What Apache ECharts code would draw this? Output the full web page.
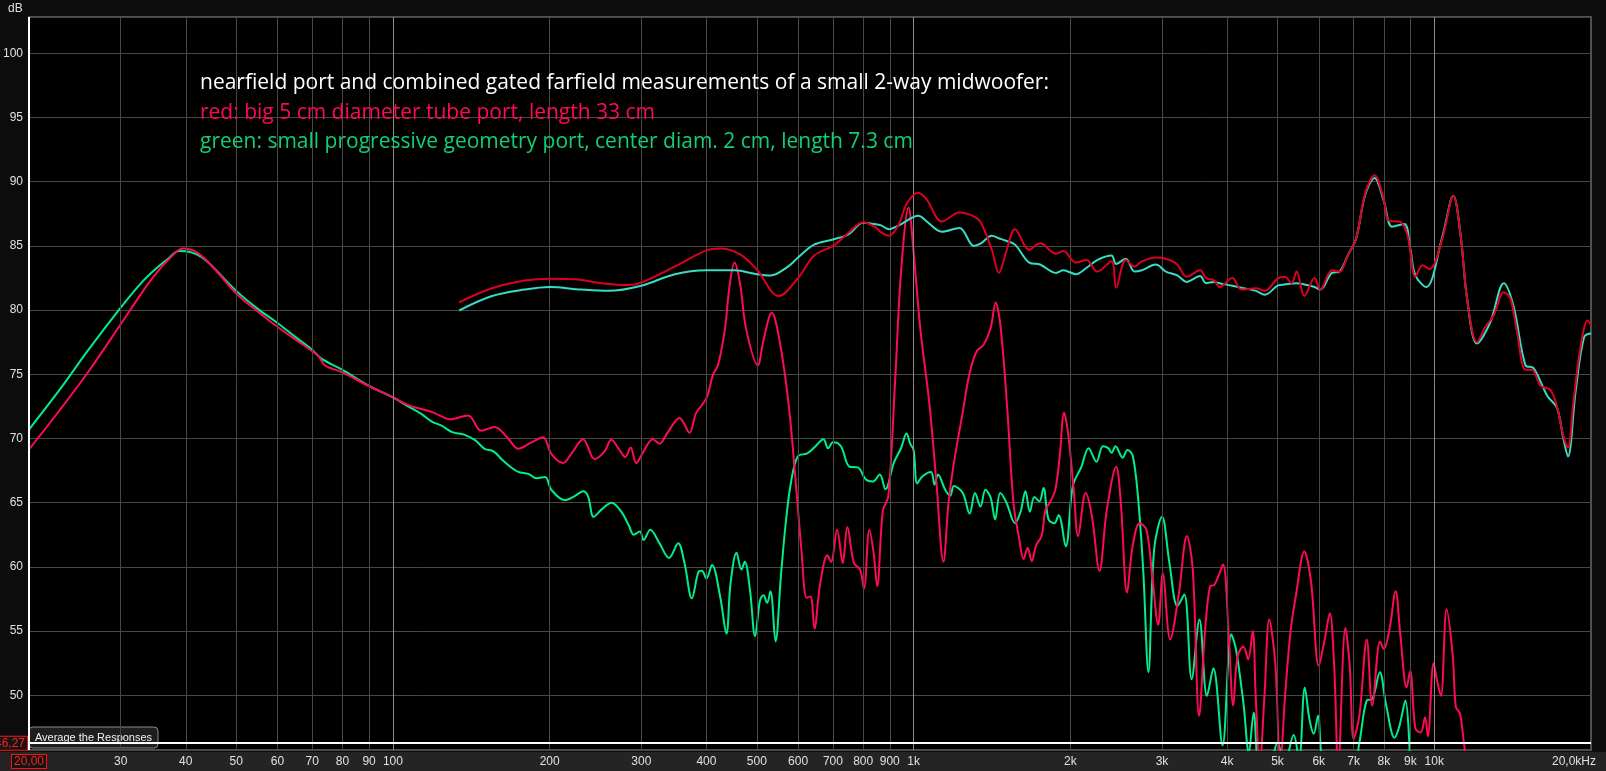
<!DOCTYPE html>
<html><head><meta charset="utf-8">
<script src="https://cdn.jsdelivr.net/npm/echarts@6/dist/echarts.min.js"></script>
<style>html,body{margin:0;padding:0;background:#0c0c0c;}#c{width:1606px;height:771px;}</style>
</head><body><div id="c"></div>
<script>
// ---- data: [frequency Hz, level dB] ----
const redPort = [[20,69.15],[23,72.3],[26,75.2],[30,78.9],[33,81.4],[35,82.8],[37,83.9],[39.5,84.8],[42,84.5],[45,83.4],[50,81.3],[55,79.9],[60,78.7],[65,77.7],[70,76.8],[72,76.4],[74,75.7],[80,75.15],[90,74.07],[100,73.2],[107,72.6],[113.5,72.3],[120,72.0],[128.6,71.5],[139.4,71.8],[147.8,70.6],[156.8,70.9],[166.4,70.0],[174,69.2],[184.5,69.7],[194.2,70.1],[201.5,68.8],[212.2,68.1],[220,68.8],[231.8,69.95],[244,68.4],[255,69.0],[262.6,69.9],[272.4,69.1],[279.4,68.55],[286,69.3],[293.3,68.1],[302,68.9],[315.6,69.95],[325.2,69.6],[337.3,70.5],[355.2,71.6],[371.2,70.45],[382.2,72.0],[399.7,73.1],[412,75.0],[421,75.7],[434,78.5],[443,81.85],[453,83.7],[464,82.1],[477,78.5],[502,75.7],[515,77.7],[534,79.8],[554,77.4],[576,72.5],[594,66.5],[609,61.3],[623,57.6],[634,57.7],[645,55.2],[661,58.6],[683,60.9],[694,60.4],[713,62.9],[731,60.3],[746,63.1],[768,60.3],[789,59.8],[803,58.3],[822,62.9],[838,61.1],[851,58.5],[873,64.4],[894,65.5],[921,74.3],[946,83.0],[978,88.0],[1000,84.5],[1031,78.4],[1072,72.75],[1105,66.8],[1141,60.4],[1167,65.0],[1195,68.1],[1242,72.0],[1281,75.1],[1322,76.8],[1363,77.3],[1406,78.6],[1437,80.6],[1470,78.6],[1515,72.0],[1555,65.0],[1594,62.25],[1627,60.6],[1656,61.5],[1686,60.45],[1720,61.7],[1761,62.4],[1792,64.45],[1826,65.0],[1871,66.0],[1908,68.6],[1945,72.0],[1983,70.2],[2030,66.0],[2070,62.4],[2140,65.75],[2200,63.95],[2275,59.7],[2350,64.45],[2450,67.8],[2500,65.0],[2570,58.0],[2634,61.6],[2718,63.4],[2800,62.9],[2870,59.5],[2950,55.5],[3010,59.5],[3110,54.35],[3227,57.7],[3350,62.4],[3437,59.8],[3535,48.4],[3630,55.1],[3710,58.5],[3780,58.6],[3850,59.3],[3930,60.2],[4030,54.6],[4110,49.2],[4190,53.05],[4300,53.8],[4390,52.8],[4480,55.0],[4540,49.95],[4620,44.5],[4720,50.0],[4820,55.9],[4950,52.5],[5060,44.5],[5170,50.0],[5300,55.1],[5420,57.7],[5630,61.2],[5800,58.8],[6000,52.3],[6160,54.35],[6300,56.4],[6420,52.5],[6540,44.5],[6750,55.25],[6880,52.3],[7000,46.6],[7180,48.4],[7420,54.35],[7600,49.2],[7870,54.2],[8000,53.6],[8200,55.1],[8430,58.1],[8600,54.85],[8850,50.6],[8990,51.9],[9200,47.4],[9420,47.1],[9600,48.3],[9720,46.8],[9970,52.5],[10140,51.0],[10300,49.95],[10560,56.7],[10850,53.1],[11000,49.1],[11200,48.6],[11400,46.3],[11600,44.0]];

const greenPort = [[20,70.7],[23,73.9],[26,76.9],[30,80.2],[33,82.2],[35,83.2],[37,84.0],[38.8,84.6],[41,84.5],[43,84.1],[45,83.4],[50,81.5],[55,80.1],[60,79.0],[65,77.9],[70,76.9],[73,76.2],[80,75.35],[90,74.1],[100,73.2],[107,72.5],[113.5,71.9],[119,71.3],[124,71.0],[130,70.5],[137,70.3],[144,69.85],[150,69.2],[156,69.0],[162.5,68.3],[168,67.8],[174,67.4],[182,67.25],[188.5,66.9],[196,67.0],[201.5,66.0],[214,65.2],[223,65.5],[232,65.9],[237,65.5],[243,63.9],[252,64.5],[263,65.0],[274.5,64.3],[284,63.2],[290,62.5],[298,62.75],[303,62.1],[312,62.9],[325,61.85],[339,60.7],[353,61.85],[363,60.3],[375,57.55],[386,59.6],[392,59.7],[400,59.1],[410,60.15],[425,57.7],[437,54.8],[445,58.7],[457,61.1],[467,59.8],[474,60.4],[485,58.2],[496,54.6],[507,57.4],[515,57.8],[523,57.2],[531,58.1],[543,54.2],[556,59.25],[568,63.4],[581,66.5],[599,68.6],[625,68.85],[648,69.4],[671,69.95],[685,69.25],[700,69.7],[725,69.4],[753,67.8],[781,67.75],[810,66.8],[836,66.65],[861,67.2],[883,66.05],[916,68.1],[947,69.3],[969,70.4],[985,69.6],[1000,69.1],[1016,66.5],[1039,67.05],[1080,67.4],[1097,66.4],[1114,67.2],[1150,66.0],[1176,65.55],[1195,66.3],[1243,65.75],[1281,64.15],[1312,65.75],[1344,64.7],[1374,66.0],[1406,65.4],[1434,63.7],[1467,65.75],[1508,65.0],[1566,63.4],[1605,64.3],[1640,65.9],[1672,64.3],[1706,65.45],[1744,65.1],[1776,66.15],[1816,63.7],[1864,63.4],[1899,64.05],[1960,61.6],[2022,66.3],[2100,67.8],[2168,69.25],[2245,68.2],[2310,69.4],[2365,69.25],[2400,68.9],[2442,69.4],[2520,68.5],[2574,69.1],[2634,68.7],[2697,65.5],[2760,59.8],[2825,51.8],[2897,61.35],[3000,63.9],[3100,60.3],[3212,56.95],[3310,57.85],[3420,51.25],[3540,55.9],[3660,49.95],[3765,52.1],[3920,46.1],[4075,54.75],[4160,53.6],[4300,49.4],[4405,45.5],[4500,48.65],[4620,44.5],[4800,44.5],[5000,46.3],[5150,44.5],[5370,46.9],[5500,45.0],[5640,50.6],[5760,48.1],[5870,47.0],[5980,48.4],[6130,44.5],[6500,44.0],[7000,44.5],[7180,46.3],[7420,49.6],[7600,49.7],[7860,51.8],[8085,49.2],[8390,46.7],[8570,47.6],[8800,49.6],[9000,44.0]];

const redFar = [[134,80.6],[155,81.7],[179,82.3],[200,82.45],[224,82.4],[251,82.1],[283,81.95],[300,82.15],[348,83.4],[400,84.65],[428,84.8],[466,84.3],[500,83.15],[551,81.1],[600,82.5],[644,84.25],[700,85.0],[749,86.0],[800,86.85],[841,86.5],[870,86.0],[897,85.8],[937,86.7],[970,88.3],[1022,89.15],[1060,88.6],[1133,86.9],[1225,87.6],[1305,87.3],[1347,86.8],[1413,84.7],[1458,82.9],[1505,84.5],[1566,86.3],[1668,84.7],[1749,85.2],[1877,84.4],[1939,84.6],[2049,83.7],[2149,83.9],[2252,83.0],[2399,83.8],[2449,81.75],[2555,83.9],[2657,83.4],[2743,83.8],[2919,84.1],[3052,84.0],[3209,83.55],[3344,82.6],[3550,83.1],[3643,82.5],[3780,82.3],[3867,81.8],[4095,82.5],[4262,81.6],[4546,81.7],[4726,81.5],[5000,82.45],[5160,82.6],[5320,82.1],[5440,83.0],[5630,81.1],[5890,82.5],[6040,81.6],[6360,83.1],[6570,83.0],[6830,84.3],[7080,85.6],[7370,89.1],[7680,90.5],[8000,88.6],[8170,87.0],[8620,86.85],[8900,85.7],[9200,82.6],[9500,83.5],[9800,83.2],[10360,85.55],[10880,88.9],[11230,85.9],[11570,80.8],[12080,77.5],[12540,78.7],[13010,79.6],[13600,81.4],[14000,80.9],[14400,78.45],[14970,75.35],[15400,75.35],[16000,74.1],[16700,73.8],[17200,72.5],[17700,70.2],[18060,69.3],[18500,72.8],[19100,77.15],[19700,79.2],[20000,78.8]];

const cyanFar = [[134,79.97],[155,81.1],[179,81.6],[200,81.8],[230,81.6],[259,81.5],[300,81.9],[348,82.8],[400,83.1],[453,83.1],[500,82.8],[531,82.7],[572,83.35],[600,84.1],[644,85.1],[700,85.5],[749,85.9],[800,86.8],[841,86.7],[866,86.6],[897,86.3],[937,86.6],[1022,87.35],[1060,86.9],[1133,86.1],[1225,86.4],[1305,85.0],[1347,85.2],[1413,85.8],[1458,85.6],[1505,85.4],[1566,85.1],[1668,83.7],[1749,83.55],[1877,82.9],[1939,83.1],[2049,82.8],[2149,83.3],[2252,83.9],[2399,84.25],[2449,83.6],[2555,84.0],[2657,83.0],[2743,83.1],[2919,83.55],[3052,83.0],[3209,82.7],[3344,82.2],[3550,82.65],[3643,82.1],[3780,82.2],[3867,82.1],[4095,81.9],[4262,81.75],[4546,81.5],[4726,81.2],[5000,81.9],[5160,82.0],[5440,82.1],[5630,82.0],[5890,81.8],[6040,81.6],[6360,82.9],[6570,83.0],[6830,84.3],[7080,85.6],[7370,89.0],[7680,90.3],[8000,88.5],[8300,86.5],[8760,86.7],[9000,84.7],[9200,82.7],[9650,81.8],[10360,85.7],[10880,88.9],[11230,85.9],[11570,80.8],[12080,77.4],[12800,79.0],[13600,82.1],[14200,80.3],[14970,75.7],[15500,75.5],[16500,73.3],[17200,72.4],[17700,70.0],[18060,68.6],[18700,73.8],[19400,77.9],[20000,78.2]];

// ---- axis ticks ----
const xTickFreqs = [30,40,50,60,70,80,90,100,200,300,400,500,600,700,800,900,1000,2000,3000,4000,5000,6000,7000,8000,9000,10000];
const xTickLabels = ['30','40','50','60','70','80','90','100','200','300','400','500','600','700','800','900','1k','2k','3k','4k','5k','6k','7k','8k','9k','10k'];
const xDecades = [100,1000,10000];
const xRange = [20, 20000];
const yRange = [45.74, 102.83];
const cursor = {freq: 20, db: 46.27, freqLabel: '20,00', dbLabel: '46,27'};
const noteLines = [
  'nearfield port and combined gated farfield measurements of a small 2-way midwoofer:',
  'red: big 5 cm diameter tube port, length 33 cm',
  'green: small progressive geometry port, center diam. 2 cm, length 7.3 cm'
];

const chart = echarts.init(document.getElementById('c'), null, {renderer: 'canvas'});
const FONT = '"Liberation Sans", Arial, sans-serif';
const NOTEFONT = '"Open Sans", sans-serif';
const gridLineData = xTickFreqs.map((f, i) => ({
  xAxis: f,
  lineStyle: {color: xDecades.includes(f) ? '#8a8a8a' : '#474747', width: 1, type: 'solid'},
  label: {formatter: xTickLabels[i]}
}));
const cursorRed = {color: '#ff2020', borderColor: '#ff1010', borderWidth: 1, backgroundColor: '#141414', padding: [1, 2, 0, 2], fontSize: 12, fontFamily: FONT};

function lineSeries(name, data, color, z) {
  return {name, type: 'line', data, showSymbol: false, symbol: 'none', smooth: 0.35, z,
    lineStyle: {color, width: 2}, emphasis: {disabled: true}, animation: false, clip: true};
}

chart.setOption({
  backgroundColor: '#0c0c0c',
  animation: false,
  grid: {left: 27, right: 15, top: 17, bottom: 21, show: true, backgroundColor: '#000', borderColor: '#505050', borderWidth: 2},
  xAxis: {type: 'log', logBase: 10, min: xRange[0], max: xRange[1],
    axisLine: {show: false}, axisTick: {show: false}, axisLabel: {show: false}, splitLine: {show: false}},
  yAxis: {type: 'value', min: yRange[0], max: yRange[1], minInterval: 5, maxInterval: 5,
    axisLine: {show: false}, axisTick: {show: false},
    axisLabel: {color: '#e0e0e0', fontSize: 12, fontFamily: FONT, margin: 6, showMinLabel: false, showMaxLabel: false,
      formatter: v => (Math.abs(v % 5) < 1e-6 ? String(v) : '')},
    splitLine: {lineStyle: {color: '#474747', width: 1}}},
  series: [
    {type: 'line', data: [], z: 1, silent: true,
      markLine: {silent: true, symbol: ['none', 'none'], animation: false,
        label: {show: true, position: 'start', color: '#e0e0e0', fontSize: 12, fontFamily: FONT, distance: 6},
        data: gridLineData}},
    lineSeries('green port', greenPort, '#00ee8a', 3),
    lineSeries('red port', redPort, '#ff0a54', 4),
    lineSeries('cyan far', cyanFar, '#38dcc4', 5),
    lineSeries('red far', redFar, '#dc0020', 6),
    {type: 'line', data: [], z: 8, silent: true,
      markLine: {silent: true, symbol: ['none', 'none'], animation: false,
        data: [
          {xAxis: cursor.freq, lineStyle: {color: '#ffffff', width: 2, type: 'solid'},
            label: Object.assign({show: true, position: 'start', distance: 5, formatter: cursor.freqLabel}, cursorRed)},
          {yAxis: cursor.db, lineStyle: {color: '#ffffff', width: 2, type: 'solid'},
            label: Object.assign({show: true, position: 'start', distance: 2, formatter: cursor.dbLabel}, cursorRed)}
        ]}}
  ],
  graphic: [
    {type: 'rect', left: 0, top: 752, z: -1, shape: {width: 1606, height: 19}, style: {fill: '#242424'}},
    {type: 'text', x: 8, y: 3, z: 10, style: {text: 'dB', fill: '#e0e0e0', fontSize: 12, fontFamily: FONT}},
    {type: 'text', x: 1596, y: 756, z: 10, style: {text: '20,0kHz', fill: '#e0e0e0', fontSize: 12, fontFamily: FONT, align: 'right'}},
    {type: 'text', x: 200, y: 83.5, z: 10, style: {text: noteLines[0], fill: '#ffffff', fontSize: 21, fontFamily: NOTEFONT, verticalAlign: 'middle'}},
    {type: 'text', x: 200, y: 113, z: 10, style: {text: noteLines[1], fill: '#ff0a50', fontSize: 21, fontFamily: NOTEFONT, verticalAlign: 'middle'}},
    {type: 'text', x: 200, y: 142, z: 10, style: {text: noteLines[2], fill: '#12cf74', fontSize: 21, fontFamily: NOTEFONT, verticalAlign: 'middle'}},
    {type: 'group', x: 29, y: 727, z: 20, children: [
      {type: 'rect', shape: {x: 0, y: 0, width: 129, height: 21, r: 4}, style: {fill: '#1e1e1e', stroke: '#8a8a8a', lineWidth: 1}},
      {type: 'text', x: 64.5, y: 10.5, style: {text: 'Average the Responses', fill: '#f0f0f0', fontSize: 11, fontFamily: FONT, align: 'center', verticalAlign: 'middle'}}
    ]}
  ]
});
</script></body></html>
